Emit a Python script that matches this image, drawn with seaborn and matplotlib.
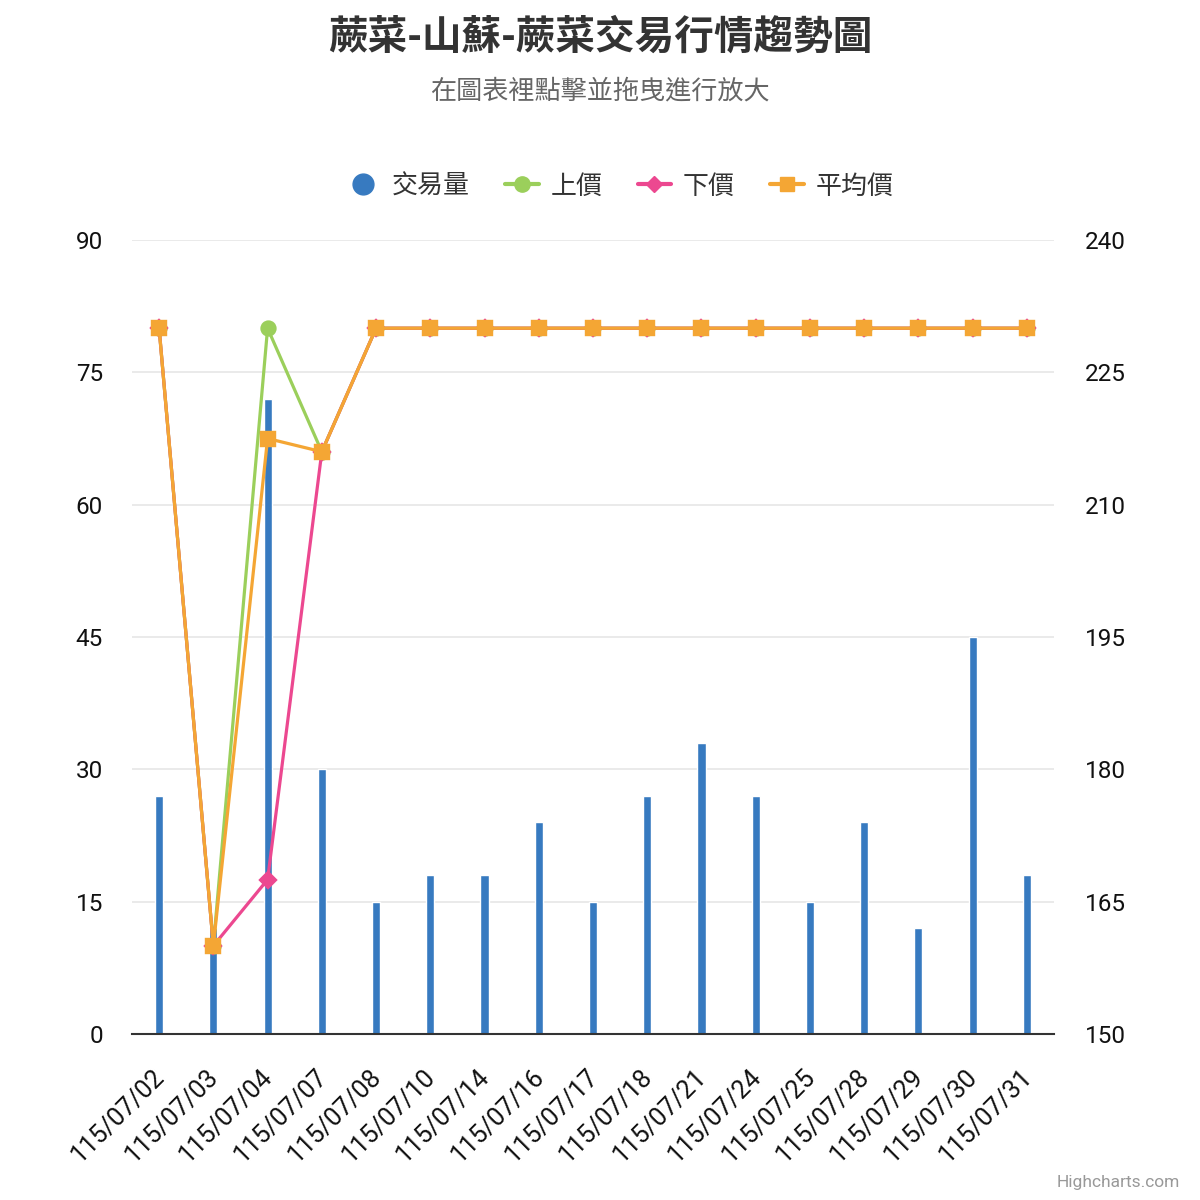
import matplotlib
matplotlib.use("Agg")
import matplotlib.pyplot as plt
import matplotlib.transforms as mtransforms
import seaborn as sns
import numpy as np
import pandas as pd
from matplotlib.lines import Line2D

sns.set_theme(style="white")
plt.rcParams['font.family'] = ['Roboto', 'Noto Sans CJK TC', 'DejaVu Sans']

dates = ["115/07/02", "115/07/03", "115/07/04", "115/07/07", "115/07/08", "115/07/10",
         "115/07/14", "115/07/16", "115/07/17", "115/07/18", "115/07/21", "115/07/24",
         "115/07/25", "115/07/28", "115/07/29", "115/07/30", "115/07/31"]
volume = [27, 12, 72, 30, 15, 18, 18, 24, 15, 27, 33, 27, 15, 24, 12, 45, 18]
upper = [230, 160, 230, 216, 230, 230, 230, 230, 230, 230, 230, 230, 230, 230, 230, 230, 230]
lower = [230, 160, 167.5, 216, 230, 230, 230, 230, 230, 230, 230, 230, 230, 230, 230, 230, 230]
average = [230, 160, 217.5, 216, 230, 230, 230, 230, 230, 230, 230, 230, 230, 230, 230, 230, 230]

left_ticks = [0, 15, 30, 45, 60, 75, 90]
right_ticks = [150, 165, 180, 195, 210, 225, 240]

c_blue = "#377ac0"
c_green = "#9bcf5b"
c_pink = "#ec4890"
c_orange = "#f4a634"

df = pd.DataFrame({"date": dates, "volume": volume, "upper": upper,
                   "lower": lower, "average": average})

fig = plt.figure(figsize=(12, 12), dpi=100)
ax = fig.add_axes([132/1200, 1 - 1034/1200, (1054-132)/1200, (1034-240)/1200])

sns.barplot(data=df, x="date", y="volume", color=c_blue, width=0.15, ax=ax,
            saturation=1, zorder=2)
ax.set_ylim(0, 90)
ax.set_yticks(left_ticks)
ax.set_xlim(-0.5, len(dates) - 0.5)
ax.grid(axis="y", color="#e6e6e6", linewidth=1.2, zorder=0)
ax.set_axisbelow(True)
for s in ["top", "left", "right"]:
    ax.spines[s].set_visible(False)
ax.spines["bottom"].set_color("#333333")
ax.spines["bottom"].set_linewidth(1.5)
ax.set_xlabel("")
ax.set_ylabel("")
ax.tick_params(axis="y", length=0, pad=21, labelsize=17.5, labelcolor="#111111")
ax.tick_params(axis="x", length=0, pad=22, labelsize=18.3, labelcolor="#111111")
offset = mtransforms.ScaledTranslation(-7/100, 0, fig.dpi_scale_trans)
for lbl in ax.get_xticklabels():
    lbl.set_rotation(45)
    lbl.set_ha("right")
    lbl.set_rotation_mode("anchor")
    lbl.set_transform(lbl.get_transform() + offset)

ax2 = ax.twinx()
sns.pointplot(data=df, x="date", y="upper", color=c_green, markers="o",
              markersize=10, linewidth=2.3, ax=ax2)
sns.pointplot(data=df, x="date", y="lower", color=c_pink, markers="D",
              markersize=8, linewidth=2.3, ax=ax2)
sns.pointplot(data=df, x="date", y="average", color=c_orange, markers="s",
              markersize=10.5, linewidth=2.3, ax=ax2)
ax2.set_ylim(150, 240)
ax2.set_yticks(right_ticks)
ax2.set_xlim(-0.5, len(dates) - 0.5)
for s in ["top", "left", "right", "bottom"]:
    ax2.spines[s].set_visible(False)
ax2.set_ylabel("")
ax2.set_xlabel("")
ax2.tick_params(axis="y", length=0, pad=22, labelsize=17.5, labelcolor="#111111")
ax2.grid(False)

fig.text(0.5, 1 - 37/1200, "蕨菜-山蘇-蕨菜交易行情趨勢圖", ha="center", va="center",
         fontsize=28.5, fontweight="bold", color="#333333",
         family=['Noto Sans CJK TC', 'DejaVu Sans'])
fig.text(0.5, 1 - 91/1200, "在圖表裡點擊並拖曳進行放大", ha="center", va="center",
         fontsize=18.8, color="#666666", family=['Noto Sans CJK TC', 'DejaVu Sans'])

handles = [
    Line2D([], [], linestyle="none", marker="o", markersize=15, color=c_blue),
    Line2D([], [], color=c_green, lw=3, marker="o", markersize=11),
    Line2D([], [], color=c_pink, lw=3, marker="D", markersize=8),
    Line2D([], [], color=c_orange, lw=3, marker="s", markersize=10),
]
labels = ["交易量", "上價", "下價", "平均價"]
leg = fig.legend(handles, labels, loc="center", bbox_to_anchor=(0.5 + 20/1200, 1 - 186/1200),
                 ncol=4, frameon=False, handlelength=1.3, columnspacing=1.35,
                 handletextpad=0.45,
                 prop={"family": ['Noto Sans CJK TC', 'DejaVu Sans'], "size": 18.7})
for t in leg.get_texts():
    t.set_color("#333333")

fig.text(1 - 20/1200, 1 - 1183/1200, "Highcharts.com", ha="right", va="center",
         fontsize=12.5, color="#999999")

fig.savefig("out.png", dpi=100)
